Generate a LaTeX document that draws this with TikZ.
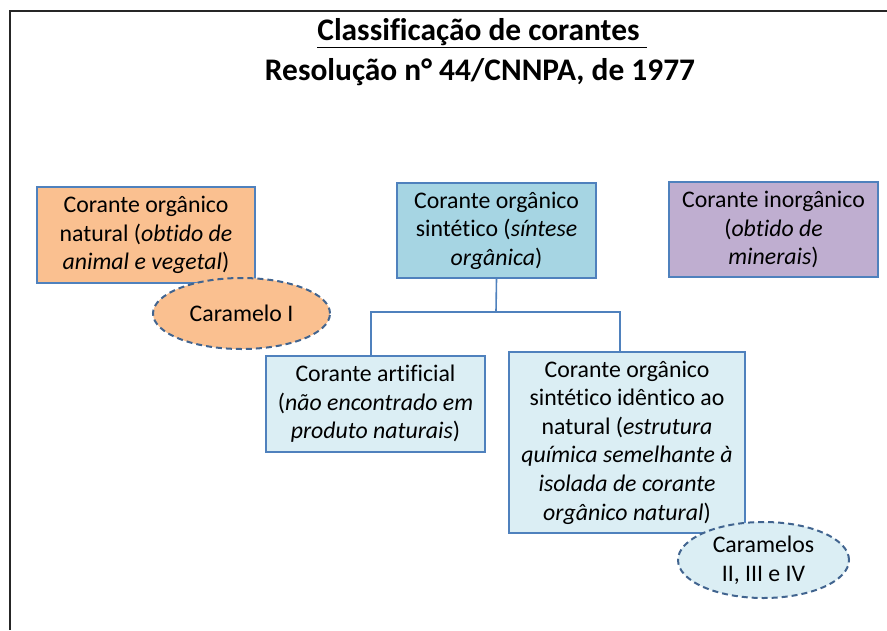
\documentclass[tikz,border=0pt]{standalone}
\usepackage{fontspec}
\setmainfont{Carlito}[Ligatures={NoCommon,NoRare,NoContextual}]
\usetikzlibrary{positioning,shapes.geometric}
\definecolor{boxline}{HTML}{4F81BD}
\definecolor{ovalline}{HTML}{41648F}
\definecolor{orangefill}{HTML}{FAC090}
\definecolor{aquafill}{HTML}{A6D5E3}
\definecolor{purplefill}{HTML}{BFAED0}
\definecolor{palefill}{HTML}{DBEEF4}
\tikzset{
  class box/.style={draw=boxline, line width=2pt, align=center, inner sep=0pt, font=\fontsize{23.8}{28.6}\selectfont},
  natural box/.style={class box, fill=orangefill, minimum width=218pt, minimum height=96pt},
  synthetic box/.style={class box, fill=aquafill, minimum width=199pt, minimum height=95pt},
  inorganic box/.style={class box, fill=purplefill, minimum width=209pt, minimum height=95pt},
  sub box/.style={class box, fill=palefill},
  caramel oval/.style={ellipse, draw=ovalline, line width=2pt, dashed, dash pattern=on 6pt off 4pt, inner sep=0pt, align=center, font=\fontsize{23.8}{28.6}\selectfont},
  branch/.style={draw=boxline, line width=1.6pt},
  heading/.style={font=\bfseries\fontsize{31.4}{34}\selectfont, inner sep=0pt},
}

\begin{document}
\begin{tikzpicture}[x=1pt,y=-1pt]
\useasboundingbox (0,0) rectangle (887,630);
\draw[line width=2pt, black!85] (10,630) -- (10,11) -- (887,11);
% the titles
\node [heading] (title) at (482,33) {\underline{Classificação de corantes\ }};
\node [heading] (subtitle) at (480,72) {Resolução n° 44/CNNPA, de 1977};
% the nodes
\node [natural box] (natA) at (146,235) {Corante orgânico\\ natural (\textit{obtido de}\\ \textit{animal e vegetal})};
\node [synthetic box] (synA) at (496.5,230.5) {Corante orgânico\\ sintético (\textit{síntese}\\ \textit{orgânica})};
\node [inorganic box] (inoA) at (773.5,229.5) {Corante inorgânico\\ (\textit{obtido de}\\ \textit{minerais})};
\node [sub box, minimum width=219pt, minimum height=96pt] (synB) at (375.5,404) {Corante artificial\\ (\textit{não encontrado em}\\ \textit{produto naturais})};
\node [sub box, minimum width=236pt, minimum height=181pt] (synC) at (627,442.5) {Corante orgânico\\ sintético idêntico ao\\ natural (\textit{estrutura}\\ \textit{química semelhante à}\\ \textit{isolada de corante}\\ \textit{orgânico natural})};
\node [caramel oval, fill=orangefill, minimum width=177pt, minimum height=71pt] (carA) at (241.5,313.5) {Caramelo I};
\node [caramel oval, fill=palefill, minimum width=171pt, minimum height=76pt] (carB) at (763.5,560) {Caramelos\\ II, III e IV};
%drawings of branches
\coordinate (fork) at (496,312);
\draw[branch] (synA.south) -- (fork);
\draw[branch] (fork) -| ([xshift=-4.5pt]synB.north);
\draw[branch] (fork) -| ([xshift=-7pt]synC.north);
\end{tikzpicture}
\end{document}
